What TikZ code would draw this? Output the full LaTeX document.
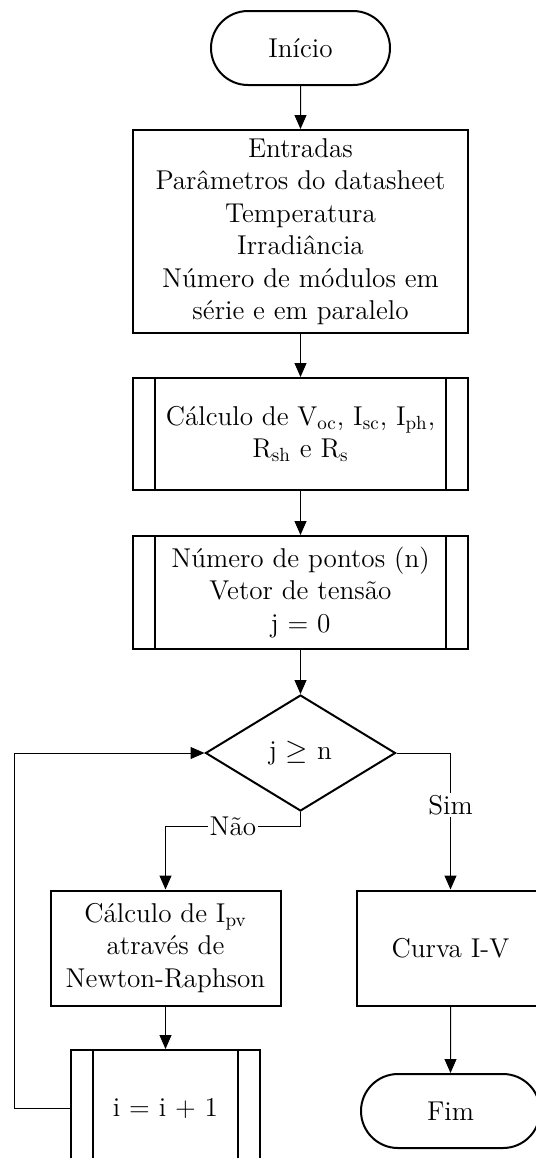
\documentclass[tikz,border=0pt]{standalone}
\usepackage{amsmath}
\usepackage{tikz}
\usetikzlibrary{shapes.misc, shapes.geometric, arrows.meta}

\tikzset{
  txt/.style={font=\fontsize{13.6}{16.25}\selectfont},
  base/.style={txt, draw, line width=1pt, align=center, inner sep=2pt},
  term/.style={base, rounded rectangle, minimum width=93.5pt, minimum height=37pt},
  proc/.style={base, rectangle},
  subproc/.style={base, rectangle, path picture={
      \draw[line width=1pt] ([xshift=11pt]path picture bounding box.north west) -- ([xshift=11pt]path picture bounding box.south west)
        ([xshift=-11pt]path picture bounding box.north east) -- ([xshift=-11pt]path picture bounding box.south east);}},
  decis/.style={base, diamond, inner sep=0pt, minimum width=95pt, minimum height=58pt},
  seta/.style={-{Triangle[length=7pt,width=6pt]}, line width=0.5pt},
  rotulo/.style={txt, fill=white, inner sep=1pt},
}

\begin{document}
\begin{tikzpicture}[x=0.5pt, y=-0.5pt]
    \useasboundingbox (0,0) rectangle (536,1158);
    \clip (0,0) rectangle (536,1158);
    % Nodes
    \node[term] (inicio) at (300.5,48) {Início};
    \node[proc, minimum width=167.5pt, minimum height=101.5pt] (entradas) at (300.5,231.5)
        {Entradas\\Parâmetros do datasheet\\Temperatura\\Irradiância\\Número de módulos em\\série e em paralelo};
    \node[subproc, minimum width=167.5pt, minimum height=56pt] (calc) at (300.5,434)
        {Cálculo de V\textsubscript{oc}, I\textsubscript{sc}, I\textsubscript{ph},\\R\textsubscript{sh} e R\textsubscript{s}};
    \node[subproc, minimum width=167.5pt, minimum height=56.5pt] (pontos) at (300.5,592.5)
        {Número de pontos (n)\\Vetor de tensão\\j = 0};
    \node[decis] (teste) at (300.5,753) {j $\geq$ n};
    \node[proc, minimum width=115pt, minimum height=57.5pt] (ipv) at (165.5,948)
        {Cálculo de I\textsubscript{pv}\\através de\\Newton-Raphson};
    \node[proc, minimum width=94pt, minimum height=57.5pt] (curva) at (450.5,948) {Curva I-V};
    \node[subproc, minimum width=94.5pt, minimum height=58pt] (incr) at (165.5,1108) {i = i + 1};
    \node[term] (fim) at (450.5,1111) {Fim};
    \coordinate (canto) at (14,1108);
    % Connectors
    \draw[seta] (inicio) -- (entradas);
    \draw[seta] (entradas) -- (calc);
    \draw[seta] (calc) -- (pontos);
    \draw[seta] (pontos) -- (teste);
    \draw[seta] (teste.east) -| node[rotulo, pos=0.69] (sim) {Sim} (curva.north);
    \draw[seta] (teste.south) -- ++(0,14) -| node[rotulo, pos=0.25] (nao) {Não} (ipv.north);
    \draw[seta] (ipv) -- (incr);
    \draw[seta] (curva) -- (fim);
    \draw[seta] (incr.west) -- (canto) |- (teste.west);
\end{tikzpicture}
\end{document}
